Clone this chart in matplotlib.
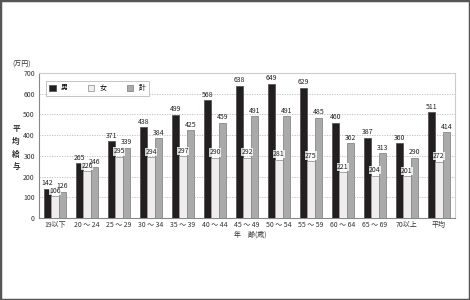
import matplotlib
matplotlib.use("Agg")
import matplotlib.pyplot as plt
from matplotlib.patches import Rectangle
import numpy as np

plt.rcParams['font.family'] = ['Noto Sans CJK JP', 'DejaVu Sans']

categories = ["19以下", "20 ～ 24", "25 ～ 29", "30 ～ 34", "35 ～ 39", "40 ～ 44",
              "45 ～ 49", "50 ～ 54", "55 ～ 59", "60 ～ 64", "65 ～ 69", "70以上", "平均"]
male = [142, 265, 371, 438, 499, 568, 638, 649, 629, 460, 387, 360, 511]
female = [106, 226, 295, 294, 297, 290, 292, 281, 275, 221, 204, 201, 272]
total = [126, 246, 339, 384, 425, 459, 491, 491, 485, 362, 313, 290, 414]
series_names = ["男", "女", "計"]
yticks = [0, 100, 200, 300, 400, 500, 600, 700]

fig = plt.figure(figsize=(4.7, 3.0), dpi=100)
W, H = 470, 300
ax = fig.add_axes([39 / W, 1 - 218 / H, 416 / W, 145 / H])

x = np.arange(len(categories))
w = 0.235
colors = ["#231f20", "#eeeeee", "#aaaaaa"]
edges = ["#555555", "#999999", "#888888"]
data = [male, female, total]
offs = [-w, 0, w]
for vals, c, e, o, name in zip(data, colors, edges, offs, series_names):
    ax.bar(x + o, vals, width=w, color=c, edgecolor=e, linewidth=0.6,
           label=name, zorder=3)
    for xi, v in zip(x + o, vals):
        kw = {}
        if name == "女":
            kw = dict(bbox=dict(facecolor="white", edgecolor="none", pad=0.1, alpha=0.8))
        ax.text(xi, v + 7, str(v), ha="center", va="bottom", fontsize=5,
                color="#222222", zorder=5, **kw)

ax.set_xlim(-0.5, len(categories) - 0.5)
ax.set_ylim(0, 700)
ax.set_yticks(yticks)
ax.set_yticklabels([str(t) for t in yticks], fontsize=5, color="#333333")
ax.set_xticks(x)
ax.set_xticklabels(categories, fontsize=5, color="#333333")
ax.tick_params(axis="y", length=0, pad=3)
ax.tick_params(axis="x", length=0, pad=2)
for t in yticks[1:-1]:
    ax.axhline(t, color="#bbbbbb", linewidth=0.6, linestyle=(0, (1.5, 1.5)), zorder=1)

ax.spines["top"].set_color("#cccccc")
ax.spines["right"].set_color("#cccccc")
ax.spines["left"].set_color("#888888")
ax.spines["bottom"].set_color("#888888")
for s in ax.spines.values():
    s.set_linewidth(0.8)

leg = ax.legend(loc="upper left", ncol=3, fontsize=5, frameon=True, fancybox=False,
                edgecolor="#aaaaaa", handlelength=0.9, handleheight=0.9,
                columnspacing=3.0, handletextpad=0.7, borderpad=0.5,
                bbox_to_anchor=(0.008, 0.97))
leg.get_frame().set_linewidth(0.6)

fig.text(22 / W, 1 - 65 / H, "(万円)", fontsize=5, ha="center",
         va="center", color="#333333")
for i, ch in enumerate("平均給与"):
    fig.text(16 / W, 1 - (129 + i * 12.5) / H, ch, fontsize=5.5, ha="center",
             va="center", color="#333333", fontweight="bold")
fig.text(250 / W, 1 - 235 / H, "年　齢(歳)", fontsize=5, ha="center", va="center",
         color="#333333")

fig.patches.append(Rectangle((0, 0), 1, 1, transform=fig.transFigure, fill=False,
                             edgecolor="#555555", linewidth=2.5))

fig.savefig("out.png", dpi=100)
